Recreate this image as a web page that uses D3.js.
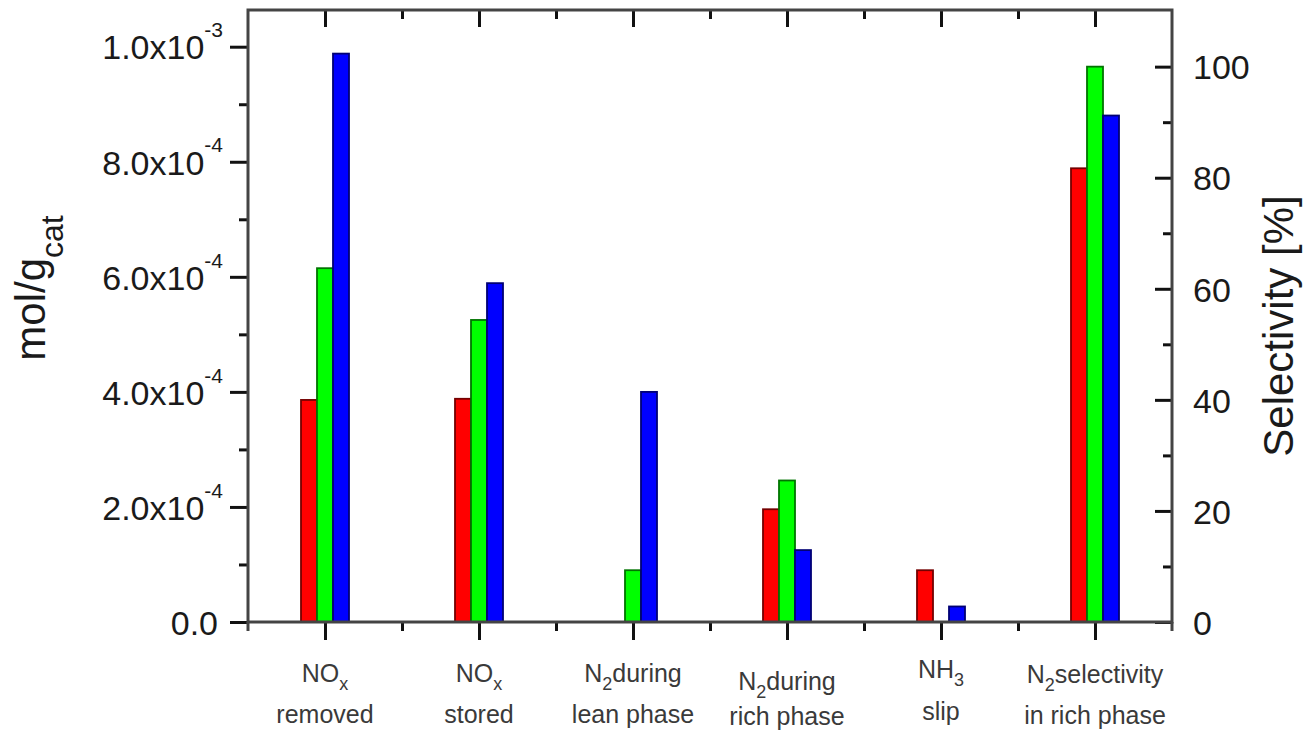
<!DOCTYPE html>
<html>
<head>
<meta charset="utf-8">
<script src="https://cdn.jsdelivr.net/npm/d3@7"></script>
<style>
  html, body { margin: 0; padding: 0; background: #fff; }
  svg { display: block; font-family: "Liberation Sans", Arial, Helvetica, sans-serif; }
</style>
</head>
<body>
<svg id="chart" width="1306" height="732"></svg>
<script>
// ---------- data ----------
const categories = ["NOx removed", "NOx stored", "N2 during lean phase", "N2 during rich phase", "NH3 slip", "N2 selectivity in rich phase"];
// first label line: [main, subscript, rest]
const labelLine1 = [["NO", "x", ""], ["NO", "x", ""], ["N", "2", "during"], ["N", "2", "during"], ["NH", "3", ""], ["N", "2", "selectivity"]];
const labelLine2 = ["removed", "stored", "lean phase", "rich phase", "slip", "in rich phase"];
const seriesNames = ["A", "B", "C"];
const seriesColors = ["#ff0000", "#00ff00", "#0000ff"];
// mol/g_cat values (left axis) for the first five categories
const molA = [3.86e-4, 3.88e-4, 0, 1.96e-4, 0.90e-4];
const molB = [6.15e-4, 5.25e-4, 0.90e-4, 2.46e-4, 0];
const molC = [9.88e-4, 5.89e-4, 4.00e-4, 1.25e-4, 0.27e-4];
// N2 selectivity in rich phase, % (right axis)
const selectivity = [81.7, 100, 91.2];
// ticks
const leftTicks = [0, 2e-4, 4e-4, 6e-4, 8e-4, 1e-3];
const leftTickLabels = [["0.0", ""], ["2.0x10", "-4"], ["4.0x10", "-4"], ["6.0x10", "-4"], ["8.0x10", "-4"], ["1.0x10", "-3"]];
const leftMinor = [1e-4, 3e-4, 5e-4, 7e-4, 9e-4];
const rightTicks = [0, 20, 40, 60, 80, 100];
const rightMinor = [10, 30, 50, 70, 90];

// ---------- layout ----------
const svg = d3.select("#chart");
const L = 248, R = 1172, T = 10, B = 622;

const x = d3.scaleBand().domain(categories).range([L, R]).paddingInner(0.6883).paddingOuter(0.34415);
const xs = d3.scaleBand().domain(seriesNames).range([0, x.bandwidth()]);
const yL = d3.scaleLinear().domain([0, 1.0638e-3]).range([B, T]);
const yR = d3.scaleLinear().domain([0, 110.2]).range([B, T]);

// build bar records
const bars = [];
const molSeries = [molA, molB, molC];
categories.forEach((c, i) => {
  seriesNames.forEach((s, j) => {
    if (i < 5) {
      bars.push({cat: c, s: s, color: seriesColors[j], y: yL(molSeries[j][i]), v: molSeries[j][i]});
    } else {
      bars.push({cat: c, s: s, color: seriesColors[j], y: yR(selectivity[j]), v: selectivity[j]});
    }
  });
});

svg.append("g").selectAll("rect").data(bars.filter(d => d.v > 0)).join("rect")
  .attr("x", d => x(d.cat) + xs(d.s))
  .attr("y", d => d.y)
  .attr("width", xs.bandwidth())
  .attr("height", d => B - d.y)
  .attr("fill", d => d.color)
  .attr("stroke", d => d3.color(d.color).darker(2.2))
  .attr("stroke-width", 1.8);

// ---------- axes ----------
const tickStroke = g => g.selectAll(".tick line").attr("stroke", "#111").attr("stroke-width", 3);
const noDomain = g => g.select(".domain").remove();

// bottom major + minor
const xCenters = categories.map(c => x(c) + x.bandwidth() / 2);
const xBounds = d3.range(1, 6).map(i => L + i * x.step());
const xLin = d3.scaleLinear().domain([L, R]).range([L, R]);

svg.append("g").attr("transform", `translate(0,${B})`)
  .call(d3.axisBottom(xLin).tickValues(xCenters).tickSize(18).tickFormat(""))
  .call(noDomain).call(tickStroke);
svg.append("g").attr("transform", `translate(0,${B})`)
  .call(d3.axisBottom(xLin).tickValues(xBounds).tickSize(9).tickFormat(""))
  .call(noDomain).call(tickStroke);
// top (inward)
svg.append("g").attr("transform", `translate(0,${T})`)
  .call(d3.axisTop(xLin).tickValues(xCenters).tickSize(-17).tickFormat(""))
  .call(noDomain).call(tickStroke);
svg.append("g").attr("transform", `translate(0,${T})`)
  .call(d3.axisTop(xLin).tickValues(xBounds).tickSize(-9).tickFormat(""))
  .call(noDomain).call(tickStroke);

// left axis
const gL = svg.append("g").attr("transform", `translate(${L},0)`)
  .call(d3.axisLeft(yL).tickValues(leftTicks).tickSize(18).tickPadding(8).tickFormat(""))
  .call(noDomain).call(tickStroke);
gL.selectAll(".tick text").each(function(d) {
  const idx = leftTicks.indexOf(d);
  const lab = leftTickLabels[idx];
  const t = d3.select(this).attr("font-size", 34).attr("fill", "#1a1a1a")
    .attr("font-family", "'Liberation Sans', Arial, sans-serif")
    .attr("text-anchor", "end").attr("x", lab[1] ? -25 : -30).attr("dy", "0.36em");
  t.text(null);
  t.append("tspan").text(lab[0]);
  if (lab[1]) t.append("tspan").attr("font-size", 21).attr("dy", "-1.05em").text(lab[1]);
});
svg.append("g").attr("transform", `translate(${L},0)`)
  .call(d3.axisLeft(yL).tickValues(leftMinor).tickSize(9).tickFormat(""))
  .call(noDomain).call(tickStroke);

// right axis (ticks inward)
svg.append("g").attr("transform", `translate(${R},0)`)
  .call(d3.axisRight(yR).tickValues(rightTicks).tickSize(-17).tickPadding(21).tickFormat(d3.format("d")))
  .call(noDomain).call(tickStroke)
  .call(g => g.selectAll(".tick text").attr("font-size", 34).attr("fill", "#1a1a1a")
    .attr("font-family", "'Liberation Sans', Arial, sans-serif").attr("dy", "0.36em"));
svg.append("g").attr("transform", `translate(${R},0)`)
  .call(d3.axisRight(yR).tickValues(rightMinor).tickSize(-9).tickFormat(""))
  .call(noDomain).call(tickStroke);

// frame
svg.append("rect").attr("x", L).attr("y", T).attr("width", R - L).attr("height", B - T)
  .attr("fill", "none").attr("stroke", "#444").attr("stroke-width", 3);
svg.append("line").attr("x1", L).attr("x2", L).attr("y1", B).attr("y2", B + 9)
  .attr("stroke", "#444").attr("stroke-width", 3);
svg.append("line").attr("x1", R).attr("x2", R).attr("y1", B).attr("y2", B + 9)
  .attr("stroke", "#444").attr("stroke-width", 3);

// category labels
const line1Y = [682, 682, 682, 690, 678, 683];
const line2Y = [723, 723, 723, 725, 720, 724];
categories.forEach((c, i) => {
  const cx = x(c) + x.bandwidth() / 2;
  const l1 = labelLine1[i];
  const t1 = svg.append("text").attr("x", cx).attr("y", line1Y[i])
    .attr("text-anchor", "middle").attr("font-size", 25).attr("fill", "#3a3a3a");
  t1.append("tspan").text(l1[0]);
  t1.append("tspan").attr("font-size", 18).attr("dy", 8).text(l1[1]);
  if (l1[2]) t1.append("tspan").attr("dy", -8).text(l1[2]);
  svg.append("text").attr("x", cx).attr("y", line2Y[i])
    .attr("text-anchor", "middle").attr("font-size", 25).attr("fill", "#3a3a3a")
    .text(labelLine2[i]);
});

// axis titles
const tl = svg.append("text").attr("transform", "translate(45,288) rotate(-90)")
  .attr("text-anchor", "middle").attr("font-size", 42).attr("fill", "#1a1a1a");
tl.append("tspan").text("mol/g");
tl.append("tspan").attr("font-size", 32).attr("dy", 18).text("cat");

svg.append("text").attr("transform", "translate(1293,326) rotate(-90)")
  .attr("text-anchor", "middle").attr("font-size", 42).attr("fill", "#1a1a1a")
  .text("Selectivity [%]");
</script>
</body>
</html>
